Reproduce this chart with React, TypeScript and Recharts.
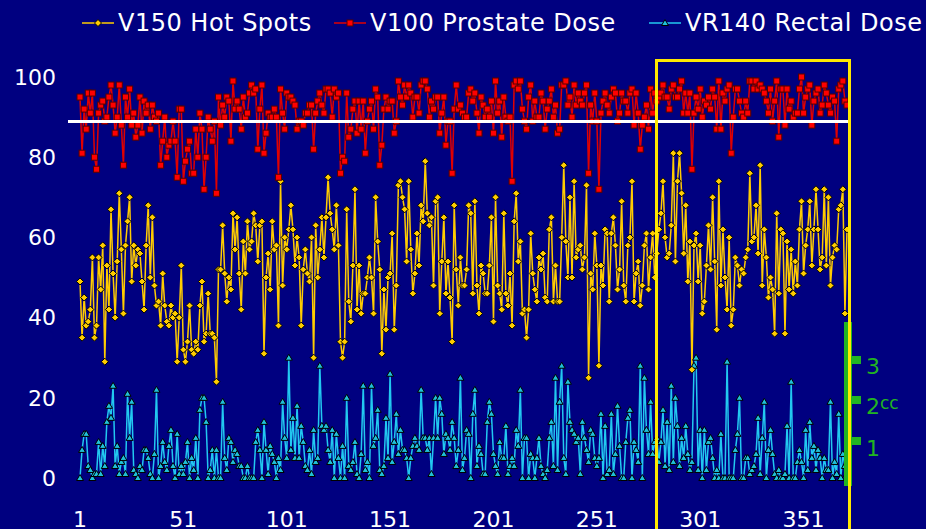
import { LineChart, Line, XAxis, YAxis } from 'recharts'

// V150 hot spots (yellow), V100 prostate dose (red), VR140 rectal dose (cyan)
const hotSpots = [
  49, 35, 45, 38, 39, 42, 55, 35, 38, 55, 47, 58, 29, 53, 42, 67, 51, 40, 54, 71,
  57, 41, 58, 64, 70, 49, 58, 53, 57, 56, 49, 42, 58, 68, 50, 65, 48, 43, 44, 38,
  51, 43, 39, 38, 43, 40, 41, 29, 40, 53, 32, 29, 34, 43, 32, 31, 34, 32, 43, 49,
  34, 36,
  46, 36, 36, 35, 24, 52, 52, 63, 51, 44, 50, 47, 66, 57, 65, 51, 42, 59, 51, 64,
  57, 59, 66, 63, 54, 63, 64, 31, 50, 56, 47, 64, 57, 58, 38, 74, 48, 60, 57, 62,
  68, 62, 53, 60, 55, 38, 52, 57, 51, 49, 60, 30, 63, 50, 57, 65, 55, 65, 75, 66,
  62, 57, 68, 58, 34, 30, 34, 67, 44, 39, 53, 72, 42, 53, 41, 46, 46, 50, 55, 50,
  41, 70, 59, 52, 31, 47, 37, 50, 51, 61, 37, 48, 73, 74, 70, 67, 54, 74, 57, 46,
  51, 61, 53, 68, 64, 79, 66, 63, 65, 48, 69, 70, 41, 54, 65, 46, 54, 45, 34, 68,
  52, 43, 55, 48, 48, 52, 68, 66, 46, 69, 48, 41, 53, 51, 46, 46, 53, 65, 39, 70,
  48, 46, 42, 66, 46, 43, 51, 38, 64, 71, 54, 59, 41, 42, 35, 42, 61, 51, 47, 44,
  55, 52, 56, 45, 44, 62, 65, 44, 53, 44, 44, 60, 78, 59, 50, 70, 50, 74, 55, 57,
  58,
  52, 55, 73, 25, 51, 47, 61, 53, 28, 53, 48, 62, 61, 44, 61, 65, 58, 47, 52, 69,
  48, 44, 58, 60, 74, 44, 51, 54, 43, 48, 58, 61, 47, 55, 61, 50, 56, 62, 66, 74,
  60, 55, 56, 63, 81, 54, 74, 81, 71, 56, 68, 49, 59, 27, 58, 61, 49, 58, 41, 44,
  53, 63, 52, 70, 54, 37, 74, 48, 62, 50, 42, 60, 38, 42, 55, 53, 48, 52, 51, 55,
  57, 76, 59, 60, 68, 56, 78, 48, 62, 55, 45, 50, 47, 36, 66, 46, 62, 61, 36, 59,
  47, 57, 46, 54, 48, 62, 69, 51, 58, 62, 69, 53, 62, 72, 62, 52, 55, 72, 53, 70,
  48, 55, 58, 57, 67, 68, 72, 41, 62,
]

const prostateDose = [
  95, 81, 92, 87, 96, 91, 96, 80, 77, 91, 93, 94, 89, 90, 95, 98, 93, 86, 90, 98,
  88, 78, 95, 90, 97, 88, 91, 85, 88, 95, 86, 94, 91, 93, 87, 93, 90, 89, 91, 78,
  84, 90, 80, 83, 84, 89, 84, 75, 92, 92, 74, 79, 82, 84, 76, 76, 87, 80, 91, 87,
  72, 80,
  90, 87, 84, 89, 71, 95, 88, 93, 90, 95, 94, 84, 99, 92, 94, 92, 87, 95, 90, 91,
  96, 98, 96, 97, 82, 92, 98, 81, 86, 91, 90, 90, 92, 90, 75, 97, 91, 87, 96, 95,
  95, 94, 93, 87, 89, 89, 88, 91, 91, 93, 93, 82, 91, 94, 96, 93, 91, 97, 97, 96,
  90, 97, 95, 96, 76, 80, 79, 96, 85, 87, 92, 94, 86, 94, 87, 94, 81, 89, 92, 94,
  87, 97, 95, 78, 83, 92, 95, 92, 94, 94, 86, 89, 99, 95, 93, 98, 95, 98, 96, 90,
  95, 95, 91, 98, 99, 99, 97, 90, 94, 92, 95, 95, 86, 91, 95, 83, 89, 89, 76, 92,
  98, 92, 93, 91, 90, 90, 96, 97, 94, 96, 91, 86, 95, 93, 90, 92, 90, 94, 86, 99,
  91, 94, 85, 95, 90, 89, 90, 74, 98, 99, 97, 99, 92, 89, 87, 95, 98, 89, 94, 90,
  90, 96, 94, 87, 92, 94, 97, 90, 93, 86, 87, 98, 98, 99, 93, 95, 90, 98, 93, 96,
  94,
  93, 96, 98, 76, 93, 89, 96, 89, 72, 91, 94, 96, 93, 91, 95, 97, 96, 89, 91, 96,
  94, 94, 91, 96, 97, 88, 96, 91, 82, 88, 90, 93, 87, 97, 91, 96, 94, 95, 96, 98,
  95, 95, 92, 97, 98, 95, 95, 97, 99, 91, 96, 91, 96, 77, 91, 95, 92, 97, 90, 94,
  93, 95, 92, 97, 95, 87, 99, 87, 96, 94, 97, 98, 81, 90, 97, 97, 94, 91, 90, 94,
  91, 99, 99, 97, 99, 97, 98, 97, 96, 94, 91, 97, 89, 94, 99, 85, 97, 97, 88, 97,
  92, 94, 90, 91, 91, 97, 100, 91, 95, 97, 98, 88, 94, 96, 97, 91, 93, 98, 96, 93,
  91, 95, 94, 84, 97, 98, 99, 94, 93,
]

const rectalDose = [
  0, 7, 11, 11, 3, 2, 0, 1, 1, 9, 1, 8, 3, 14, 18, 15, 23, 3, 8, 1,
  4, 5, 1, 21, 10, 19, 2, 1, 0, 3, 2, 7, 7, 5, 1, 0, 6, 22, 0, 3,
  9, 4, 2, 8, 12, 3, 0, 11, 1, 3, 1, 4, 9, 0, 5, 2, 10, 0, 17, 20,
  20, 14,
  0, 2, 7, 0, 7, 0, 0, 19, 5, 2, 10, 9, 4, 7, 6, 3, 3, 0, 0, 3,
  0, 0, 0, 9, 12, 7, 0, 14, 7, 1, 8, 6, 4, 0, 5, 2, 19, 10, 5, 30,
  7, 15, 5, 18, 5, 13, 9, 3, 2, 7, 1, 12, 4, 5, 28, 13, 12, 13, 7, 4,
  12, 0, 11, 5, 0, 8, 0, 20, 3, 2, 4, 9, 1, 0, 6, 23, 2, 4, 0, 23,
  8, 10, 17, 2, 1, 3, 15, 5, 26, 4, 9, 16, 6, 12, 7, 7, 5, 0, 5, 8,
  10, 8, 7, 22, 10, 10, 7, 10, 1, 10, 20, 10, 20, 16, 6, 11, 10, 7, 14, 10,
  3, 7, 25, 2, 5, 12, 11, 0, 16, 22, 3, 8, 6, 1, 1, 14, 19, 16, 6, 3,
  1, 9, 5, 5, 13, 1, 3, 5, 3, 12, 8, 22, 0, 10, 10, 0, 6, 5, 0, 5,
  10, 3, 1, 0, 2, 10, 14, 3, 25, 2, 19, 28, 5, 1, 24, 14, 12, 11, 9, 10,
  1,
  14, 10, 7, 4, 12, 11, 5, 3, 5, 16, 0, 13, 1, 2, 16, 1, 6, 18, 8, 0,
  0, 9, 15, 17, 0, 9, 7, 4, 28, 0, 25, 12, 6, 19, 6, 9, 10, 4, 9, 17,
  3, 14, 2, 23, 4, 20, 13, 3, 10, 5, 13, 6, 2, 4, 28, 30, 2, 12, 0, 12,
  2, 9, 10, 5, 0, 2, 0, 11, 0, 0, 29, 0, 0, 0, 7, 11, 20, 0, 0, 5,
  5, 1, 2, 3, 6, 15, 1, 10, 19, 0, 7, 12, 6, 1, 0, 2, 0, 0, 1, 13,
  0, 24, 0, 0, 4, 7, 4, 0, 12, 2, 14, 5, 8, 2, 7, 5, 0, 5, 2, 2,
  19, 0, 4, 1, 16, 0, 6, 3, 1,
]

const xTicks = [1, 51, 101, 151, 201, 251, 301, 351]
const yTicks = [0, 20, 40, 60, 80, 100]
const threshold = 89

const data = hotSpots.map((v, i) => ({
  n: i + 1,
  v150: v,
  v100: prostateDose[i],
  vr140: rectalDose[i],
}))

const FONT = '"DejaVu Sans", Verdana, sans-serif'
const YELLOW = '#FFCC00'
const RED = '#E00000'
const CYAN = '#22C8F0'
const GREEN = '#22B422'

const diamond = (p: any) => {
  const { cx, cy, index } = p
  if (cx == null || cy == null) return <g key={`y${index}`} />
  return (
    <path key={`y${index}`} d={`M${cx},${cy - 3.5}L${cx + 3.5},${cy}L${cx},${cy + 3.5}L${cx - 3.5},${cy}Z`}
      fill={YELLOW} stroke="#000" strokeWidth={1} />
  )
}

const square = (p: any) => {
  const { cx, cy, index } = p
  if (cx == null || cy == null) return <g key={`r${index}`} />
  return <rect key={`r${index}`} x={cx - 3} y={cy - 3} width={6} height={6} fill="#FF0000" stroke="#500" strokeWidth={1} />
}

const triangle = (p: any) => {
  const { cx, cy, index } = p
  if (cx == null || cy == null) return <g key={`c${index}`} />
  return (
    <path key={`c${index}`} d={`M${cx},${cy - 3.5}L${cx + 3.5},${cy + 2.5}L${cx - 3.5},${cy + 2.5}Z`}
      fill="#20C0D8" stroke="#000" strokeWidth={1} />
  )
}

function LegendItem({ left, color, marker, label }: { left: number; color: string; marker: string; label: string }) {
  return (
    <div style={{ position: 'absolute', left, top: 8, display: 'flex', alignItems: 'center' }}>
      <svg width={34} height={30}>
        <line x1={1} y1={15} x2={33} y2={15} stroke={color} strokeWidth={1.5} />
        {marker === 'diamond' && <path d="M17,11.5L20.5,15L17,18.5L13.5,15Z" fill={YELLOW} stroke="#000" />}
        {marker === 'square' && <rect x={14} y={12} width={6} height={6} fill="#FF0000" stroke="#500" />}
        {marker === 'triangle' && <path d="M17,11.5L20.5,17.5L13.5,17.5Z" fill="#20C0D8" stroke="#000" />}
      </svg>
      <span style={{ color: '#fff', fontFamily: FONT, fontSize: 24, letterSpacing: 0.5, marginLeft: 3, whiteSpace: 'nowrap' }}>
        {label}
      </span>
    </div>
  )
}

export default function App() {
  return (
    <div style={{ position: 'absolute', left: 0, top: 0, width: 926, height: 529, background: '#000080', overflow: 'hidden' }}>
      <LegendItem left={81} color={YELLOW} marker="diamond" label="V150 Hot Spots" />
      <LegendItem left={333} color={RED} marker="square" label="V100 Prostate Dose" />
      <LegendItem left={648} color={CYAN} marker="triangle" label="VR140 Rectal Dose" />

      <div style={{ position: 'absolute', left: 0, top: 0 }}>
        <LineChart width={926} height={529} data={data} margin={{ top: 77, right: 79, bottom: 0, left: 8 }}>
          <XAxis dataKey="n" ticks={xTicks} interval={0} axisLine={false} tickLine={false} tickSize={0} tickMargin={33}
            height={51} tick={{ fill: '#fff', fontSize: 22, fontFamily: FONT }} />
          <YAxis domain={[0, 100]} ticks={yTicks} axisLine={false} tickLine={false} tickSize={0} tickMargin={24}
            width={72} tick={{ fill: '#fff', fontSize: 22, fontFamily: FONT }} />
          <Line dataKey="vr140" stroke={CYAN} strokeWidth={1.5} dot={triangle} isAnimationActive={false} />
          <Line dataKey="v150" stroke={YELLOW} strokeWidth={1.5} dot={diamond} isAnimationActive={false} />
          <Line dataKey="v100" stroke={RED} strokeWidth={1.5} dot={square} isAnimationActive={false} />
        </LineChart>
      </div>

      {/* threshold line, highlight box and the volume scale on the right */}
      <div style={{ position: 'absolute', left: 68, top: 478 - threshold * 4.01 - 1.5, width: 780, height: 3, background: '#fff' }} />
      <div style={{ position: 'absolute', left: 844, top: 322, width: 8, height: 164, background: GREEN }} />
      {[360, 400, 441].map(t => (
        <div key={t} style={{ position: 'absolute', left: 850, top: t - 4, width: 11, height: 8, background: GREEN }} />
      ))}
      <div style={{ position: 'absolute', left: 655, top: 59, width: 190, height: 500, border: '3.5px solid #FFE800' }} />
      <div style={{ position: 'absolute', left: 866, top: 354, color: GREEN, fontFamily: FONT, fontSize: 22 }}>3</div>
      <div style={{ position: 'absolute', left: 866, top: 394, color: GREEN, fontFamily: FONT, fontSize: 22 }}>
        2<span style={{ fontSize: 17, position: 'relative', top: -5 }}>cc</span>
      </div>
      <div style={{ position: 'absolute', left: 866, top: 436, color: GREEN, fontFamily: FONT, fontSize: 22 }}>1</div>
    </div>
  )
}
